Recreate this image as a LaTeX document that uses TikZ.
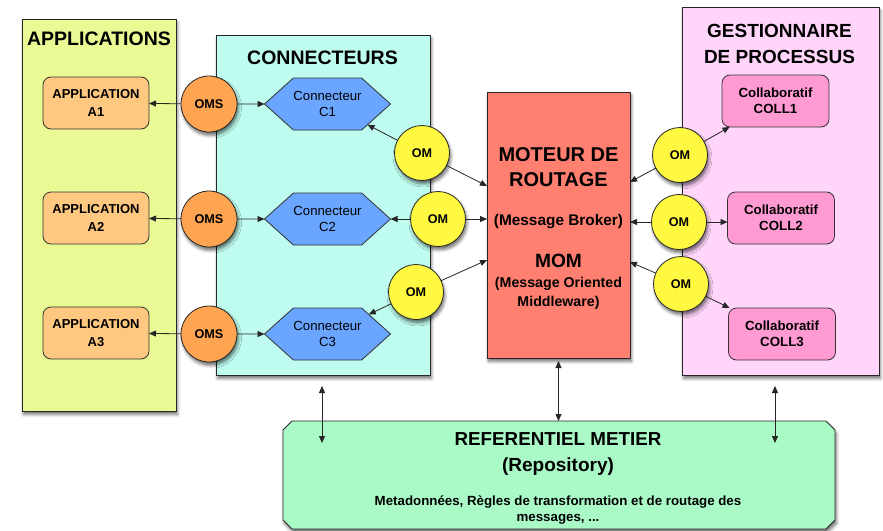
\documentclass[tikz,border=0pt]{standalone}
\usepackage{fontspec}
\setmainfont{Liberation Sans}
\usetikzlibrary{arrows.meta,shapes.symbols,shadows.blur,calc}
\definecolor{appbg}{HTML}{EAF994}
\definecolor{appbox}{HTML}{FFC880}
\definecolor{omsfill}{HTML}{FFA552}
\definecolor{connbg}{HTML}{BEFCEF}
\definecolor{hexfill}{HTML}{6AA5FF}
\definecolor{omfill}{HTML}{FFF942}
\definecolor{motfill}{HTML}{FF7F70}
\definecolor{gestbg}{HTML}{FFD5FA}
\definecolor{collfill}{HTML}{FF9AD2}
\definecolor{repofill}{HTML}{AAFAC8}
\newcommand{\fsz}[2]{\fontsize{#1}{#2}\selectfont}
\begin{document}
\begin{tikzpicture}[x=1pt,y=-1pt,
  every node/.style={inner sep=0pt, outer sep=0pt},
  shad/.style={blur shadow={shadow xshift=1.5pt, shadow yshift=-3.5pt, shadow blur radius=3pt, shadow opacity=55}},
  panel/.style={draw=black!85, line width=0.9pt, shad},
  title/.style={font=\bfseries\fsz{19.5}{27}, anchor=base},
  appbox/.style={draw=black!80, line width=0.8pt, fill=appbox, rounded corners=8pt, minimum width=106pt, minimum height=52pt, align=center, font=\bfseries\fsz{13}{18}},
  collbox/.style={draw=black!80, line width=0.8pt, fill=collfill, rounded corners=8pt, minimum width=107pt, minimum height=52pt, align=center, font=\bfseries\fsz{13.3}{16}},
  omsnode/.style={circle, draw=black!85, line width=0.8pt, fill=omsfill, minimum size=56pt, font=\bfseries\fsz{12.7}{14}, shad},
  omnode/.style={circle, draw=black!85, line width=0.8pt, fill=omfill, minimum size=55pt, font=\bfseries\fsz{12.6}{14}, shad},
  hexnode/.style={signal, signal to=east and west, signal pointer angle=84, draw=black!80, line width=0.8pt, fill=hexfill, minimum width=119pt, minimum height=52pt, align=center, font=\fsz{13.2}{15.5}},
  arr/.style={-{Triangle[length=7pt,width=6pt]}, line width=0.8pt, draw=black!85},
  biarr/.style={{Triangle[length=7pt,width=6pt]}-{Triangle[length=7pt,width=6pt]}, line width=0.8pt, draw=black!85},
  mtext/.style={font=\bfseries, anchor=base}
]
\useasboundingbox (0,0) rectangle (883,530);

% panels
\node[panel, fill=appbg, minimum width=154pt, minimum height=392pt] (apps) at (99,215) {};
\node[panel, fill=connbg, minimum width=214pt, minimum height=340pt] (conn) at (323,205) {};
\node[panel, fill=gestbg, minimum width=197pt, minimum height=368pt] (gest) at (780.5,191) {};
\node[panel, fill=motfill, minimum width=143pt, minimum height=266pt] (mot) at (558.5,225) {};
\node[minimum width=552pt, minimum height=108pt] (repo) at (559,475) {};
\draw[panel, fill=repofill]
  ([xshift=9pt]repo.north west) -- ([xshift=-9pt]repo.north east)
  -- ([yshift=-9pt]repo.north east) -- ([yshift=9pt]repo.south east)
  -- ([xshift=-9pt]repo.south east) -- ([xshift=9pt]repo.south west)
  -- ([yshift=9pt]repo.south west) -- ([yshift=-9pt]repo.north west) -- cycle;

% titles
\node[title] (tapps) at (99,45) {APPLICATIONS};
\node[title] (tconn) at (322.5,64) {CONNECTEURS};
\node[title, font=\bfseries\fsz{19}{27}] (tgest1) at (779.5,37.3) {GESTIONNAIRE};
\node[title, font=\bfseries\fsz{19}{27}] (tgest2) at (779.5,63.5) {DE PROCESSUS};

% moteur text
\node[mtext, font=\bfseries\fsz{20}{25}] (m1) at (558.5,161) {MOTEUR DE};
\node[mtext, font=\bfseries\fsz{20}{25}] (m2) at (558.5,186.5) {ROUTAGE};
\node[mtext, font=\bfseries\fsz{15.4}{18}] (m3) at (558.5,225) {(Message Broker)};
\node[mtext, font=\bfseries\fsz{19.2}{22}] (m4) at (558.5,267) {MOM};
\node[mtext, font=\bfseries\fsz{14.2}{18}] (m5) at (558.5,287) {(Message Oriented};
\node[mtext, font=\bfseries\fsz{14.2}{18}] (m6) at (558.5,306.5) {Middleware)};

% repository text
\node[mtext, font=\bfseries\fsz{18.8}{22}] (r1) at (558,445) {REFERENTIEL METIER};
\node[mtext, font=\bfseries\fsz{19}{22}] (r2) at (558,471) {(Repository)};
\node[mtext, font=\bfseries\fsz{13.3}{16}] (r3) at (558,505.5) {Metadonnées, Règles de transformation et de routage des};
\node[mtext, font=\bfseries\fsz{13.3}{16}] (r4) at (558,521) {messages, ...};

% applications
\node[appbox] (a1) at (96,103) {APPLICATION\\A1};
\node[appbox] (a2) at (96,218) {APPLICATION\\A2};
\node[appbox] (a3) at (96,333) {APPLICATION\\A3};

% connecteurs
\node[hexnode] (c1) at (327.5,104) {Connecteur\\C1};
\node[hexnode] (c2) at (327.5,219) {Connecteur\\C2};
\node[hexnode] (c3) at (327.5,334) {Connecteur\\C3};

% collaboratifs
\node[collbox] (co1) at (775.5,101) {Collaboratif\\COLL1};
\node[collbox] (co2) at (781,218) {Collaboratif\\COLL2};
\node[collbox] (co3) at (782,334) {Collaboratif\\COLL3};

% OMS
\node[omsnode] (oms1) at (209,104) {OMS};
\node[omsnode] (oms2) at (209,219) {OMS};
\node[omsnode] (oms3) at (209,334) {OMS};

% OM left
\node[omnode] (om1) at (422,153) {OM};
\node[omnode] (om2) at (438,219) {OM};
\node[omnode] (om3) at (416,292) {OM};

% OM right
\node[omnode] (or1) at (680,155) {OM};
\node[omnode] (or2) at (679,222) {OM};
\node[omnode] (or3) at (681,284) {OM};

% arrows OMS
\draw[arr] (oms1) -- (a1);
\draw[arr] (oms1) -- (c1);
\draw[arr] (oms2) -- (a2);
\draw[arr] (oms2) -- (c2);
\draw[arr] (oms3) -- (a3);
\draw[arr] (oms3) -- (c3);

% arrows OM left
\draw[arr] (om1) -- (c1);
\draw[arr] (om1) -- ([yshift=39pt]mot.west);
\draw[arr] (om2) -- (om2 -| c2.east);
\draw[arr] (om2) -- (om2 -| mot.west);
\draw[arr] (om3) -- (c3);
\draw[arr] (om3) -- ([yshift=-35pt]mot.west);

% arrows OM right
\draw[arr] (or1) -- (co1);
\draw[arr] (or1) -- ([yshift=43pt]mot.east);
\draw[arr] (or2) -- (or2 -| co2.west);
\draw[arr] (or2) -- (or2 -| mot.east);
\draw[arr] (or3) -- (co3);
\draw[arr] (or3) -- ([yshift=-37pt]mot.east);

% vertical arrows to repository
\coordinate (lt) at (322,386);
\coordinate (lb) at (322,443);
\coordinate (rt) at (775,386);
\coordinate (rb) at (775,443);
\coordinate (mt) at (558.5,361);
\draw[biarr] (lt) -- (lb);
\draw[biarr] (rt) -- (rb);
\draw[biarr] (mt) -- (mt |- repo.north);
\end{tikzpicture}
\end{document}
